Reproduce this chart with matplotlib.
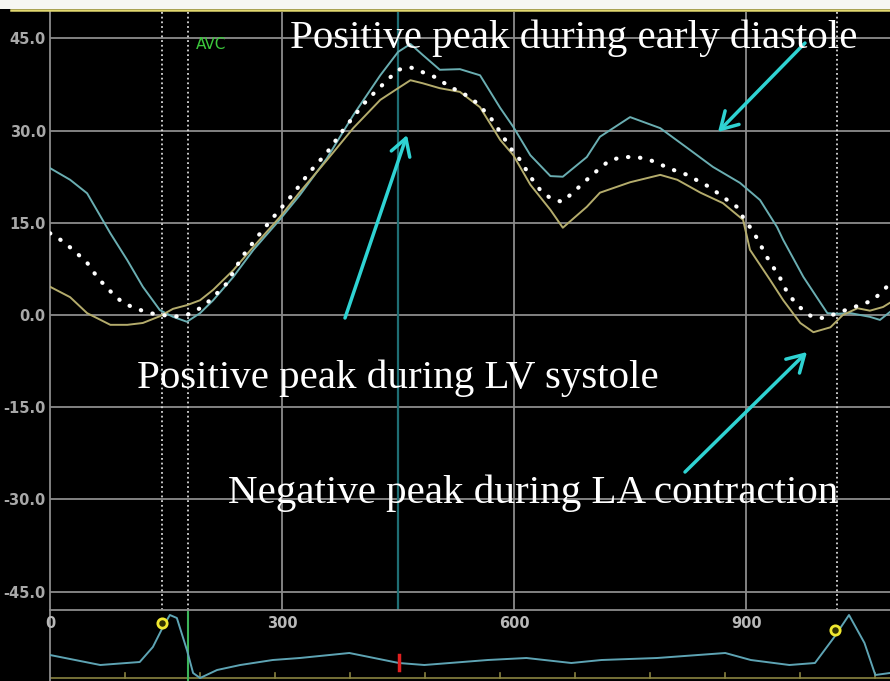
import numpy as np
import matplotlib
matplotlib.use("Agg")
import matplotlib.pyplot as plt
from matplotlib.patches import Rectangle
from matplotlib.lines import Line2D

# strain-rate traces, time in ms
t_cyan = [0, 26, 48, 78, 100, 120, 142, 159, 177, 194, 211, 237, 263, 297, 323, 358, 392, 427, 450,
          466, 482, 504, 530, 556, 582, 599, 621, 647, 663, 694, 711, 750, 789, 828, 857, 892, 918,
          940, 948, 974, 996, 1005, 1018, 1035, 1060, 1073, 1086]
v_cyan = [23.9, 22.0, 19.8, 13.3, 8.9, 4.6, 0.8, -0.3, -1.1, 0.3, 2.4, 6.2, 10.6, 15.5, 19.5, 25.5, 32.5,
          39.0, 42.8, 44.1, 42.3, 39.9, 40.0, 39.0, 33.7, 30.6, 26.0, 22.6, 22.5, 25.7, 29.0, 32.2, 30.4,
          26.8, 24.1, 21.5, 18.7, 14.3, 12.2, 6.2, 2.0, 0.3, 0.2, 0.3, -0.3, -0.8, 0.5]

t_olive = [0, 26, 48, 78, 100, 120, 142, 159, 177, 194, 211, 237, 263, 297, 323, 358, 392, 427, 450,
           466, 482, 504, 530, 556, 582, 599, 621, 647, 663, 694, 711, 750, 789, 811, 841, 870, 896,
           905, 931, 948, 970, 987, 1009, 1025, 1044, 1060, 1077, 1086]
v_olive = [4.6, 2.9, 0.3, -1.6, -1.6, -1.3, -0.2, 1.0, 1.6, 2.4, 4.1, 7.3, 11.1, 15.9, 20.0, 25.2, 30.4,
           35.0, 36.9, 38.2, 37.7, 36.9, 36.3, 33.8, 28.5, 26.0, 21.2, 17.1, 14.2, 17.6, 19.9, 21.6,
           22.8, 22.0, 19.9, 18.2, 15.5, 10.6, 5.7, 2.4, -1.3, -2.8, -2.0, 0.0, 1.1, 0.7, 1.3, 2.0]

t_mean = [0, 14, 30, 48, 62, 80, 94, 110, 129, 146, 159, 177, 194, 207, 229, 248, 268, 288, 313, 336,
          358, 379, 392, 410, 427, 450, 466, 482, 500, 517, 534, 552, 569, 582, 595, 608, 621, 634,
          647, 662, 676, 694, 711, 724, 741, 759, 776, 791, 806, 824, 841, 853, 870, 888, 896, 905,
          914, 927, 944, 953, 966, 985, 1000, 1018, 1035, 1047, 1064, 1082]
v_mean = [13.3, 12.2, 10.6, 8.5, 6.0, 3.6, 2.0, 1.1, 0.3, 0.0, -0.3, 0.0, 1.1, 2.4, 5.2, 9.4, 12.7,
          15.8, 19.5, 23.3, 26.4, 30.1, 32.2, 35.0, 37.1, 39.9, 40.3, 39.5, 38.6, 37.1, 36.1, 34.5,
          32.2, 29.8, 27.2, 25.2, 22.5, 20.3, 19.0, 18.4, 19.9, 22.0, 23.9, 25.2, 25.7, 25.7, 25.2,
          24.4, 23.6, 22.8, 21.6, 20.8, 19.2, 17.6, 15.9, 14.3, 12.5, 9.4, 6.0, 3.7, 1.6, -0.3, -0.5,
          0.3, 1.1, 1.6, 2.4, 4.6]

# ECG strip
t_ecg = [0, 65, 116, 133, 146, 155, 164, 177, 185, 194, 216, 246, 288, 323, 387, 451, 484, 566, 616,
         674, 713, 785, 873, 906, 956, 989, 1014, 1033, 1053, 1067, 1086]
a_ecg = [2.5, 1.5, 1.8, 3.3, 5.3, 6.5, 6.2, 3.0, 0.7, 0.2, 1.0, 1.5, 2.0, 2.2, 2.7, 1.7, 1.5, 2.0, 2.2,
         1.7, 2.0, 2.2, 2.7, 2.0, 1.5, 1.7, 4.3, 6.5, 3.7, 0.5, 0.7]
t_rings = [145, 1015]
a_rings = [5.7, 5.0]
t_red = 451

y_ticks = [45, 30, 15, 0, -15, -30, -45]
y_tick_labels = ["45.0", "30.0", "15.0", "0.0", "-15.0", "-30.0", "-45.0"]
x_ticks = [0, 300, 600, 900]
t_dotted = [145, 178, 1018]
t_avc = 178
t_cursor = 450

W, H = 890, 681
GRID = "#8c8c8c"
CYAN = "#6aaeb2"
OLIVE = "#b4ac6c"
ARROW = "#2fd3d3"

fig = plt.figure(figsize=(W / 100, H / 100), dpi=100, facecolor="black")

ax = fig.add_axes([50 / W, (H - 610) / H, 840 / W, 598 / H], facecolor="black")
ax.set_xlim(0, 1086)
ax.set_ylim(-48.0, 49.3)
for y in y_ticks:
    ax.axhline(y, color=GRID, lw=1.3, zorder=1)
for x in x_ticks[1:]:
    ax.axvline(x, color=GRID, lw=1.3, zorder=1)
for x in t_dotted:
    ax.axvline(x, color="#d8d8d8", lw=1.3, ls=(0, (1, 1.6)), zorder=2)
ax.axvline(t_cursor, color="#1f6e74", lw=1.6, zorder=2)

ax.plot(t_cyan, v_cyan, color=CYAN, lw=1.4, zorder=3)
ax.plot(t_olive, v_olive, color=OLIVE, lw=1.4, zorder=3)
ax.plot(t_mean, v_mean, color="white", lw=3, ls=(0, (0.1, 2.8)),
        dash_capstyle="round", zorder=4)

ax.set_yticks(y_ticks)
ax.set_yticklabels(y_tick_labels)
ax.tick_params(axis="y", length=0, pad=3, labelcolor="#a8a8a8", labelsize=10.5)
for lab in ax.get_yticklabels():
    lab.set_fontweight("bold")
ax.set_xticks([])
for s in ["top", "right", "bottom"]:
    ax.spines[s].set_visible(False)
ax.spines["left"].set_color(GRID)
ax.spines["left"].set_linewidth(1.3)

ax.text(t_avc + 10, 44, "AVC", color="#3cc83c", fontsize=11, va="center", ha="left")

# ECG panel
ax2 = fig.add_axes([50 / W, 0, 840 / W, 71 / H], facecolor="black")
ax2.set_xlim(0, 1086)
ax2.set_ylim(-0.1, 7.0)
ax2.plot(t_ecg, a_ecg, color="#5ea4b4", lw=1.4, zorder=3)
ax2.axvline(t_avc, color="#3cb45a", lw=1.5, zorder=2)
ax2.scatter(t_rings, a_rings, s=45, facecolor="#303000", edgecolor="#f0e830", lw=2, zorder=4)
ax2.plot([t_red, t_red], [1.0, 2.5], color="#e02020", lw=2.5, zorder=4)
ax2.axhline(0.2, color="#8a8440", lw=1.2, zorder=1)
for x in np.arange(97, 1086, 97):
    ax2.plot([x, x], [0.2, 0.7], color="#8a8440", lw=1.2)
for x in x_ticks:
    ax2.text(x, 5.6, str(x), color="#b8b8b8", fontsize=10.5, fontweight="bold",
             ha="center", va="center")
ax2.set_xticks([])
ax2.set_yticks([])
for s in ["right", "bottom"]:
    ax2.spines[s].set_visible(False)
ax2.spines["top"].set_color(GRID)
ax2.spines["top"].set_linewidth(1.3)
ax2.spines["left"].set_color(GRID)
ax2.spines["left"].set_linewidth(1.3)

# top strip of the viewer window
fig.add_artist(Rectangle((0, 1 - 9 / H), 1, 9 / H, transform=fig.transFigure,
                         facecolor="#f6f6f2", edgecolor="none"))
fig.add_artist(Line2D([0.012, 1], [1 - 10 / H] * 2, transform=fig.transFigure,
                      color="#e2d870", lw=1.8))

serif = ["Liberation Serif", "DejaVu Serif"]
fig.text(290 / W, 1 - 38 / H, "Positive peak during early diastole", color="white",
         fontsize=29.5, family=serif, va="center", ha="left")
fig.text(137 / W, 1 - 378 / H, "Positive peak during LV systole", color="white",
         fontsize=29.5, family=serif, va="center", ha="left")
fig.text(228 / W, 1 - 493 / H, "Negative peak during LA contraction", color="white",
         fontsize=29.5, family=serif, va="center", ha="left")

arrows = [((345, 318), (407, 135)), ((805, 43), (718, 132)), ((685, 472), (807, 352))]
for (x0, y0), (x1, y1) in arrows:
    ax.annotate("", xy=(x1, H - y1), xycoords="figure pixels",
                xytext=(x0, H - y0), textcoords="figure pixels",
                arrowprops=dict(arrowstyle="->, head_length=0.6, head_width=0.35",
                                color=ARROW, lw=2.5, mutation_scale=20, shrinkA=0, shrinkB=0))

fig.savefig("out.png", dpi=100, facecolor="black")
